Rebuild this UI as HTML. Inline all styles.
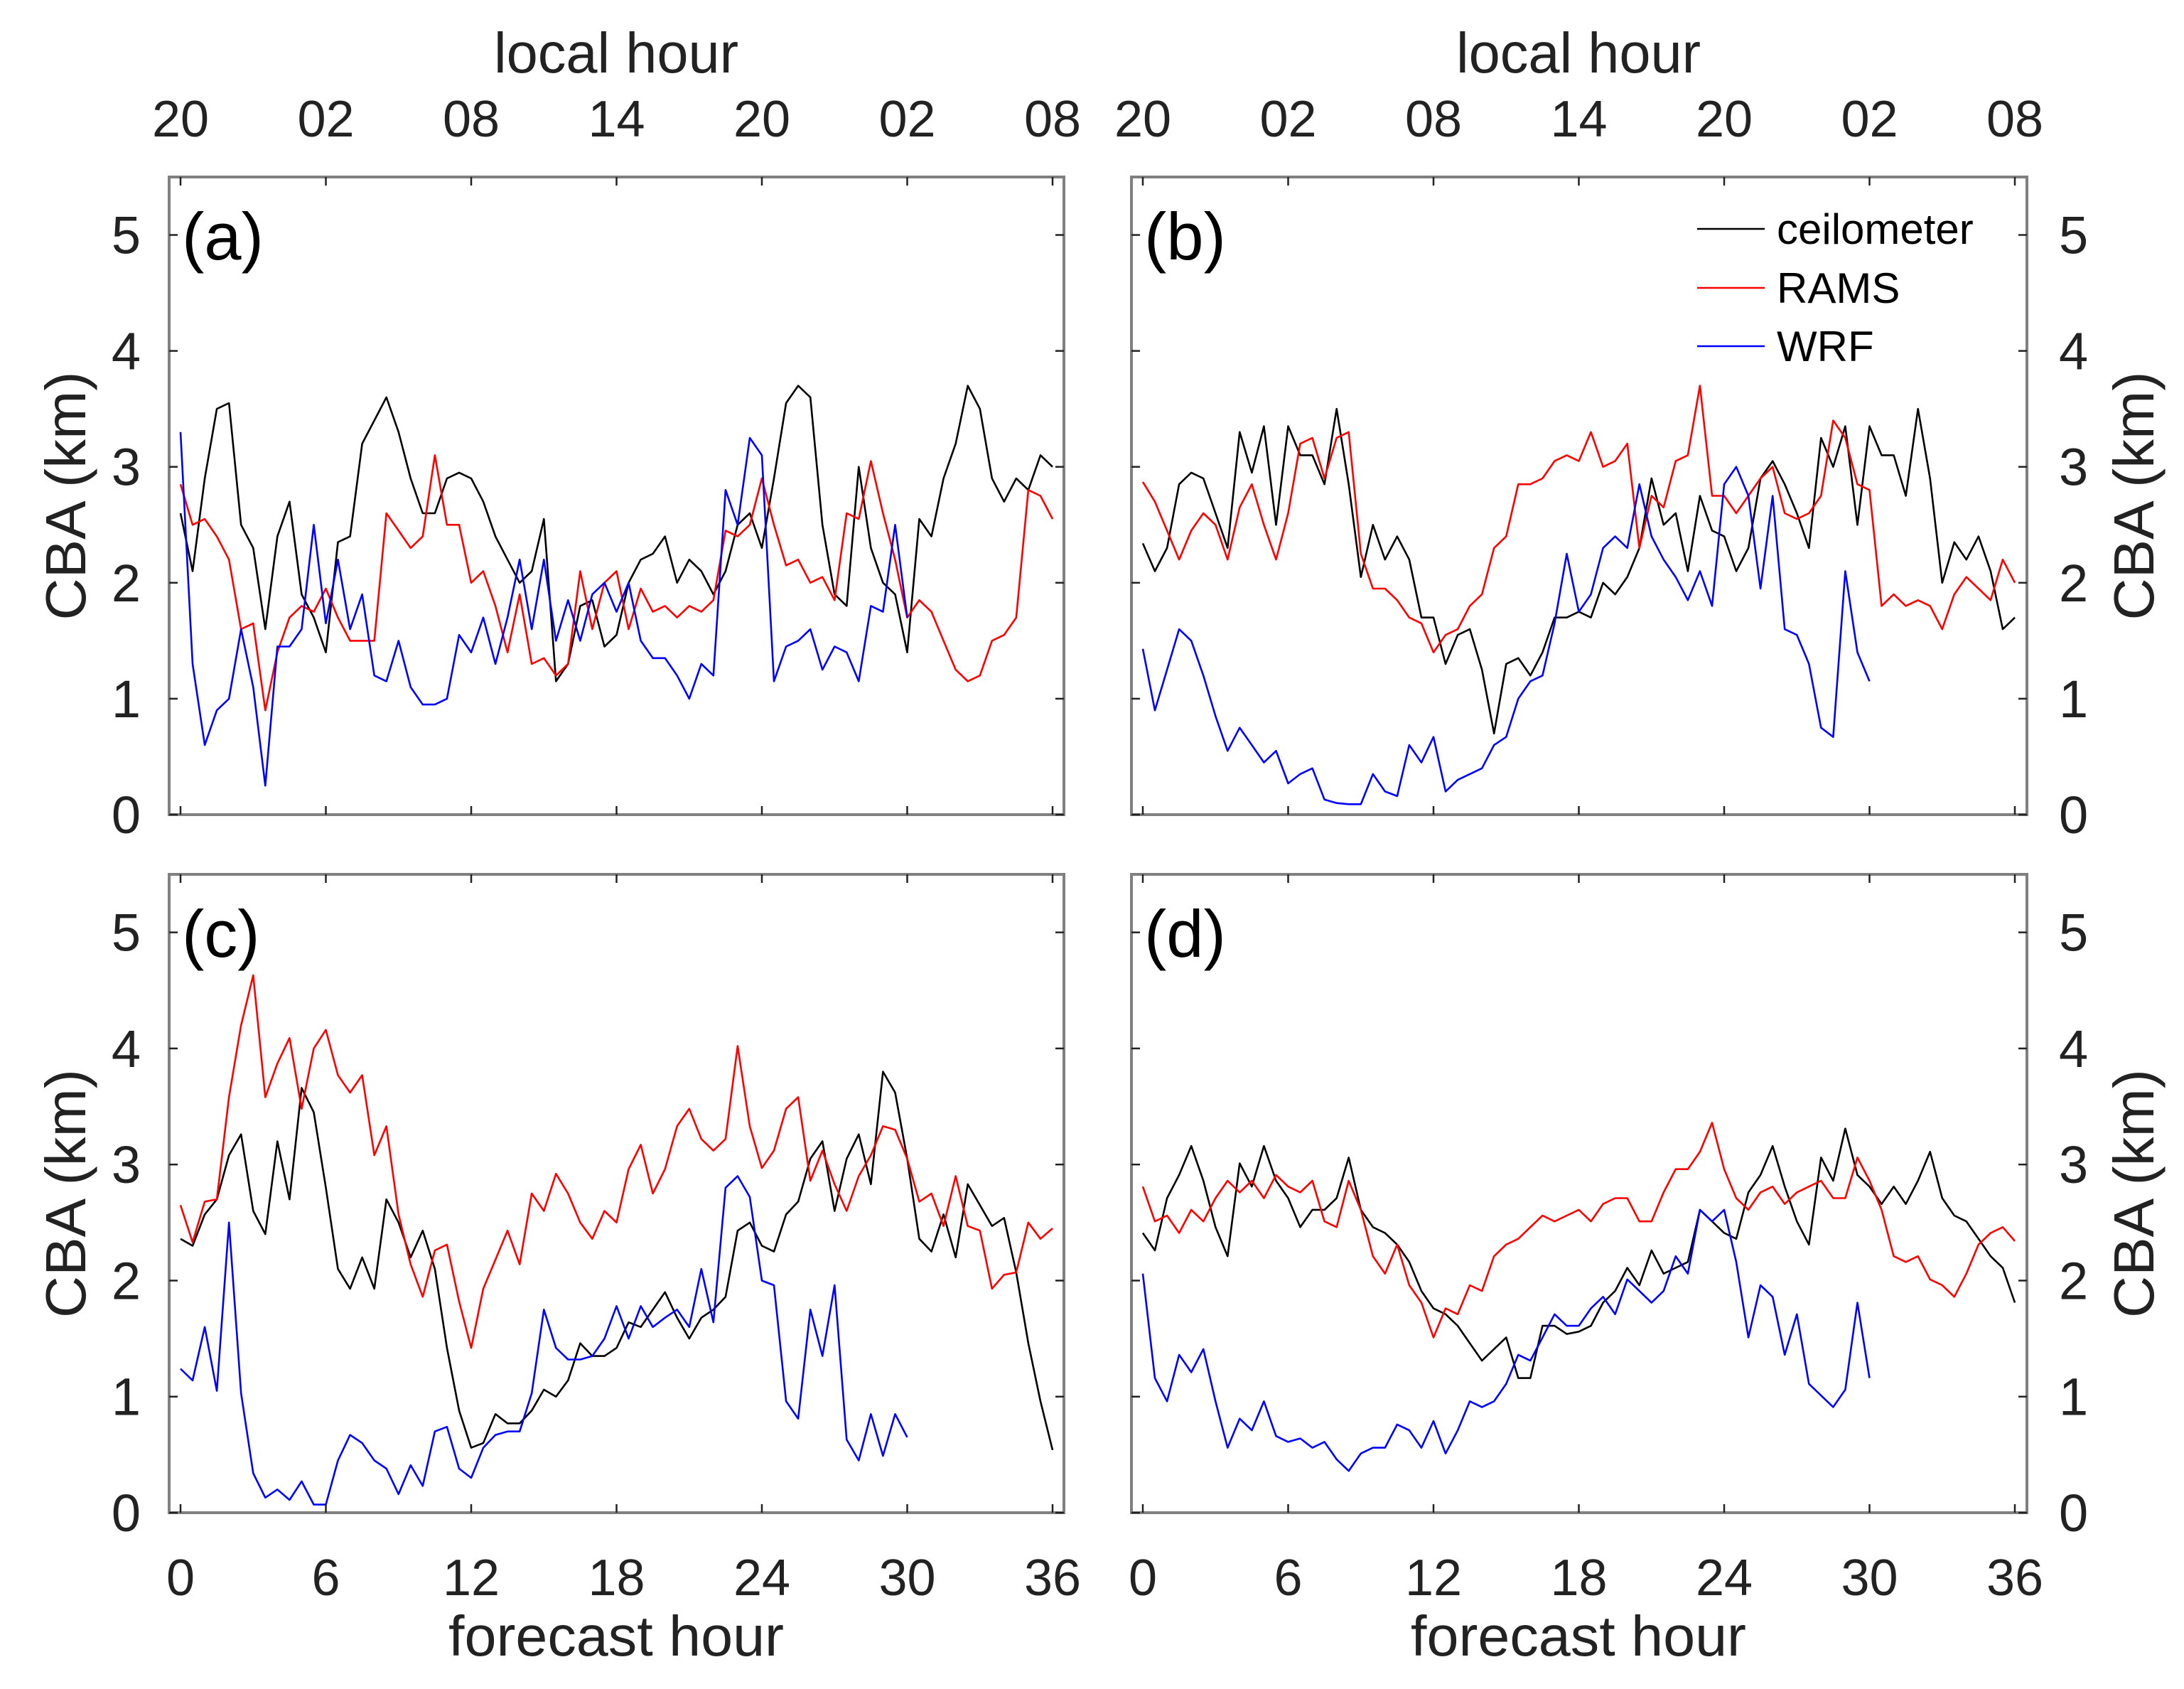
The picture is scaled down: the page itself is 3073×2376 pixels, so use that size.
<!DOCTYPE html>
<html><head><meta charset="utf-8"><style>
html,body{margin:0;padding:0;background:#fff;}
svg{display:block;font-family:"Liberation Sans",sans-serif;}
</style></head><body>
<svg id="chart" width="3073" height="2376" viewBox="0 0 3073 2376" xmlns="http://www.w3.org/2000/svg">
<rect width="3073" height="2376" fill="#fff"/>
<g id="layer"></g>
</svg>
<script>
const hours = [];
for (let i = 0; i <= 72; i++) hours.push(i * 0.5);
const xTicks = [0, 6, 12, 18, 24, 30, 36];
const forecastLabels = ["0", "6", "12", "18", "24", "30", "36"];
const localLabels = ["20", "02", "08", "14", "20", "02", "08"];
const yTicks = [0, 1, 2, 3, 4, 5];
const yLabels = ["0", "1", "2", "3", "4", "5"];

const ceilA = [2.6,2.1,2.9,3.5,3.55,2.5,2.3,1.6,2.4,2.7,1.9,1.7,1.4,2.35,2.4,3.2,3.4,3.6,3.3,2.9,2.6,2.6,2.9,2.95,2.9,2.7,2.4,2.2,2.0,2.1,2.55,1.15,1.3,1.8,1.85,1.45,1.55,2.0,2.2,2.25,2.4,2.0,2.2,2.1,1.9,2.1,2.5,2.6,2.3,2.9,3.55,3.7,3.6,2.5,1.9,1.8,3.0,2.3,2.0,1.9,1.4,2.55,2.4,2.9,3.2,3.7,3.5,2.9,2.7,2.9,2.8,3.1,3.0];
const ramsA = [2.85,2.5,2.55,2.4,2.2,1.6,1.65,0.9,1.4,1.7,1.8,1.75,1.95,1.7,1.5,1.5,1.5,2.6,2.45,2.3,2.4,3.1,2.5,2.5,2.0,2.1,1.8,1.4,1.9,1.3,1.35,1.2,1.3,2.1,1.6,2.0,2.1,1.6,1.95,1.75,1.8,1.7,1.8,1.75,1.85,2.45,2.4,2.5,2.9,2.5,2.15,2.2,2.0,2.05,1.85,2.6,2.55,3.05,2.6,2.2,1.7,1.85,1.75,1.5,1.25,1.15,1.2,1.5,1.55,1.7,2.8,2.75,2.55];
const wrfA = [3.3,1.3,0.6,0.9,1.0,1.6,1.1,0.25,1.45,1.45,1.6,2.5,1.65,2.2,1.6,1.9,1.2,1.15,1.5,1.1,0.95,0.95,1.0,1.55,1.4,1.7,1.3,1.7,2.2,1.6,2.2,1.5,1.85,1.5,1.9,2.0,1.75,2.0,1.5,1.35,1.35,1.2,1.0,1.3,1.2,2.8,2.5,3.25,3.1,1.15,1.45,1.5,1.6,1.25,1.45,1.4,1.15,1.8,1.75,2.5,1.7];

const ceilB = [2.34,2.1,2.3,2.85,2.95,2.9,2.6,2.3,3.3,2.95,3.35,2.5,3.35,3.1,3.1,2.85,3.5,2.85,2.05,2.5,2.2,2.4,2.2,1.7,1.7,1.3,1.55,1.6,1.25,0.7,1.3,1.35,1.2,1.4,1.7,1.7,1.75,1.7,2.0,1.9,2.05,2.3,2.9,2.5,2.6,2.1,2.75,2.45,2.4,2.1,2.3,2.9,3.05,2.85,2.6,2.3,3.25,3.0,3.35,2.5,3.35,3.1,3.1,2.75,3.5,2.9,2.0,2.35,2.2,2.4,2.1,1.6,1.7];
const ramsB = [2.87,2.7,2.45,2.2,2.45,2.6,2.5,2.2,2.65,2.85,2.5,2.2,2.6,3.2,3.25,2.9,3.25,3.3,2.25,1.95,1.95,1.85,1.7,1.65,1.4,1.55,1.6,1.8,1.9,2.3,2.4,2.85,2.85,2.9,3.05,3.1,3.05,3.3,3.0,3.05,3.2,2.3,2.75,2.65,3.05,3.1,3.7,2.75,2.75,2.6,2.75,2.9,3.0,2.6,2.55,2.6,2.75,3.4,3.25,2.85,2.8,1.8,1.9,1.8,1.85,1.8,1.6,1.9,2.05,1.95,1.85,2.2,2.0];
const wrfB = [1.43,0.9,1.25,1.6,1.5,1.2,0.85,0.55,0.75,0.6,0.45,0.55,0.27,0.35,0.4,0.13,0.1,0.09,0.09,0.35,0.2,0.16,0.6,0.45,0.67,0.2,0.3,0.35,0.4,0.6,0.67,1.0,1.15,1.2,1.65,2.25,1.75,1.9,2.3,2.4,2.3,2.85,2.4,2.2,2.05,1.85,2.1,1.8,2.85,3.0,2.75,1.95,2.75,1.6,1.55,1.3,0.75,0.67,2.1,1.4,1.15];

const ceilC = [2.36,2.3,2.57,2.7,3.08,3.26,2.6,2.4,3.2,2.7,3.66,3.45,2.8,2.1,1.93,2.2,1.93,2.7,2.5,2.2,2.43,2.1,1.42,0.88,0.56,0.6,0.85,0.77,0.77,0.88,1.06,1.0,1.14,1.46,1.35,1.35,1.42,1.64,1.6,1.75,1.9,1.68,1.5,1.68,1.75,1.86,2.43,2.5,2.3,2.25,2.57,2.68,3.05,3.2,2.6,3.05,3.26,2.83,3.8,3.62,3.05,2.36,2.25,2.57,2.2,2.83,2.65,2.47,2.54,2.07,1.46,0.96,0.54];
const ramsC = [2.65,2.33,2.68,2.7,3.58,4.2,4.63,3.58,3.87,4.09,3.48,4.0,4.16,3.77,3.62,3.77,3.08,3.33,2.57,2.14,1.86,2.26,2.31,1.82,1.42,1.93,2.18,2.43,2.14,2.75,2.6,2.92,2.75,2.5,2.36,2.6,2.5,2.96,3.17,2.75,2.96,3.33,3.48,3.22,3.12,3.22,4.02,3.33,2.97,3.12,3.48,3.58,2.86,3.12,2.83,2.6,2.9,3.08,3.33,3.3,3.05,2.68,2.75,2.47,2.9,2.47,2.43,1.93,2.05,2.07,2.5,2.36,2.45];
const wrfC = [1.24,1.14,1.6,1.05,2.5,1.03,0.34,0.13,0.2,0.11,0.27,0.07,0.07,0.45,0.67,0.6,0.45,0.38,0.16,0.41,0.23,0.7,0.74,0.38,0.3,0.56,0.67,0.7,0.7,1.03,1.75,1.42,1.32,1.32,1.35,1.5,1.78,1.5,1.78,1.6,1.68,1.75,1.6,2.1,1.64,2.8,2.9,2.72,2.0,1.96,0.96,0.81,1.75,1.35,1.96,0.63,0.45,0.85,0.49,0.85,0.65];

const ceilD = [2.41,2.26,2.71,2.91,3.16,2.86,2.46,2.21,3.01,2.81,3.16,2.86,2.71,2.46,2.61,2.61,2.71,3.06,2.61,2.46,2.41,2.31,2.16,1.91,1.76,1.71,1.61,1.46,1.31,1.41,1.51,1.16,1.16,1.61,1.61,1.54,1.56,1.61,1.81,1.91,2.11,1.96,2.26,2.06,2.11,2.16,2.61,2.51,2.41,2.36,2.76,2.91,3.16,2.81,2.51,2.31,3.06,2.86,3.31,2.91,2.81,2.66,2.81,2.66,2.86,3.11,2.71,2.56,2.51,2.36,2.21,2.11,1.81];
const ramsD = [2.81,2.51,2.56,2.41,2.61,2.51,2.71,2.86,2.76,2.86,2.71,2.91,2.81,2.76,2.86,2.51,2.46,2.86,2.61,2.21,2.06,2.31,1.96,1.81,1.51,1.76,1.71,1.96,1.91,2.21,2.31,2.36,2.46,2.56,2.51,2.56,2.61,2.51,2.66,2.71,2.71,2.51,2.51,2.76,2.96,2.96,3.11,3.36,2.96,2.71,2.61,2.76,2.81,2.66,2.76,2.81,2.86,2.71,2.71,3.06,2.86,2.61,2.21,2.16,2.21,2.01,1.96,1.86,2.06,2.31,2.41,2.46,2.34];
const wrfD = [2.06,1.16,0.96,1.36,1.21,1.41,0.96,0.56,0.81,0.71,0.96,0.66,0.61,0.64,0.56,0.61,0.46,0.36,0.51,0.56,0.56,0.76,0.71,0.56,0.79,0.51,0.71,0.96,0.91,0.96,1.11,1.36,1.31,1.51,1.71,1.61,1.61,1.76,1.86,1.71,2.01,1.91,1.81,1.91,2.21,2.06,2.61,2.51,2.61,2.16,1.51,1.96,1.86,1.36,1.71,1.11,1.01,0.91,1.06,1.81,1.16];

const NS = "http://www.w3.org/2000/svg";
const layer = document.getElementById("layer");
function mk(tag, attrs, parent) {
  const e = document.createElementNS(NS, tag);
  for (const k in attrs) e.setAttribute(k, attrs[k]);
  (parent || layer).appendChild(e);
  return e;
}

const panels = [
  {id:"a", fx0:238, fx1:1497, fy0:249, fy1:1146, ax0:254, ax1:1481, left:true, top:true, ceil:ceilA, rams:ramsA, wrf:wrfA},
  {id:"b", fx0:1592, fx1:2852, fy0:249, fy1:1146, ax0:1608, ax1:2835, left:false, top:true, ceil:ceilB, rams:ramsB, wrf:wrfB},
  {id:"c", fx0:238, fx1:1497, fy0:1230, fy1:2128, ax0:254, ax1:1481, left:true, top:false, ceil:ceilC, rams:ramsC, wrf:wrfC},
  {id:"d", fx0:1592, fx1:2852, fy0:1230, fy1:2128, ax0:1608, ax1:2835, left:false, top:false, ceil:ceilD, rams:ramsD, wrf:wrfD}
];

panels.forEach(p => {
  const g = mk("g", {});
  
  
  const xs = h => p.ax0 + (p.ax1 - p.ax0) * h / 36;
  const ys = v => p.fy1 - (p.fy1 - p.fy0) * v / 5.5;

  // series
  const series = [["ceilometer", p.ceil, "#000000"], ["rams", p.rams, "#ff0000"], ["wrf", p.wrf, "#0000ff"]];
  series.forEach(s => {
    let d = "";
    s[1].forEach((v, i) => { d += (i ? "L" : "M") + xs(hours[i]).toFixed(1) + " " + ys(v).toFixed(1); });
    const path = mk("path", {d: d, fill: "none", stroke: s[2], "stroke-width": 2.6, "stroke-linejoin": "round"}, g);
    
    
  });

  // frame
  const fr = mk("rect", {x: p.fx0, y: p.fy0, width: p.fx1 - p.fx0, height: p.fy1 - p.fy0, fill: "none", stroke: "#808080", "stroke-width": 4}, g);
  
  

  // x ticks
  xTicks.forEach((t, i) => {
    const x = xs(t);
    const tk1 = mk("line", {x1: x, x2: x, y1: p.fy1, y2: p.fy1 - 12, stroke: "#222", "stroke-width": 2.5}, g);
    
    
    const tk2 = mk("line", {x1: x, x2: x, y1: p.fy0, y2: p.fy0 + 12, stroke: "#222", "stroke-width": 2.5}, g);
    
    
    if (p.top) {
      const tl = mk("text", {x: x, y: 192, "font-size": 72, "text-anchor": "middle", fill: "#222"}, g);
      tl.textContent = localLabels[i];
      
      
    } else {
      const bl = mk("text", {x: x, y: 2244, "font-size": 72, "text-anchor": "middle", fill: "#222"}, g);
      bl.textContent = forecastLabels[i];
      
      
    }
  });

  // y ticks
  yTicks.forEach((v, i) => {
    const y = ys(v);
    const t1 = mk("line", {x1: p.fx0, x2: p.fx0 + 12, y1: y, y2: y, stroke: "#222", "stroke-width": 2.5}, g);
    
    
    const t2 = mk("line", {x1: p.fx1, x2: p.fx1 - 12, y1: y, y2: y, stroke: "#222", "stroke-width": 2.5}, g);
    
    
    const lbl = mk("text", {x: p.left ? 198 : 2897, y: y + 26, "font-size": 74, "text-anchor": p.left ? "end" : "start", fill: "#222"}, g);
    lbl.textContent = yLabels[i];
    
    
  });

  // panel label
  const pl = mk("text", {x: p.fx0 + 18, y: p.fy0 + 116, "font-size": 94, fill: "#000"}, g);
  pl.textContent = "(" + p.id + ")";
  
  

  // y axis title
  const cy = (p.fy0 + p.fy1) / 2;
  const tx = p.left ? 120 : 3030;
  const yt = mk("text", {x: tx, y: cy, "font-size": 80, "text-anchor": "middle", fill: "#222", transform: "rotate(-90 " + tx + " " + cy + ")", textLength: 350, lengthAdjust: "spacingAndGlyphs"}, g);
  yt.textContent = "CBA (km)";
  
  
});

// top / bottom axis titles
[867, 2221].forEach(cx => {
  const lt = mk("text", {x: cx, y: 102, "font-size": 80, "text-anchor": "middle", fill: "#222", textLength: 344, lengthAdjust: "spacingAndGlyphs"});
  lt.textContent = "local hour";
  
  
  const ft = mk("text", {x: cx, y: 2329, "font-size": 80, "text-anchor": "middle", fill: "#222", textLength: 472, lengthAdjust: "spacingAndGlyphs"});
  ft.textContent = "forecast hour";
  
  
});

// legend
const legendNames = ["ceilometer", "RAMS", "WRF"];
const legendColors = ["#000000", "#ff0000", "#0000ff"];
const legendYs = [322, 405, 487];
const lg = mk("g", {});


legendNames.forEach((n, i) => {
  const ln = mk("line", {x1: 2388, x2: 2483, y1: legendYs[i], y2: legendYs[i], stroke: legendColors[i], "stroke-width": 2.6}, lg);
  
  
  const lt = mk("text", {x: 2500, y: legendYs[i] + 21, "font-size": 60, fill: "#000"}, lg);
  lt.textContent = n;
  
  
});
</script>
</body></html>
